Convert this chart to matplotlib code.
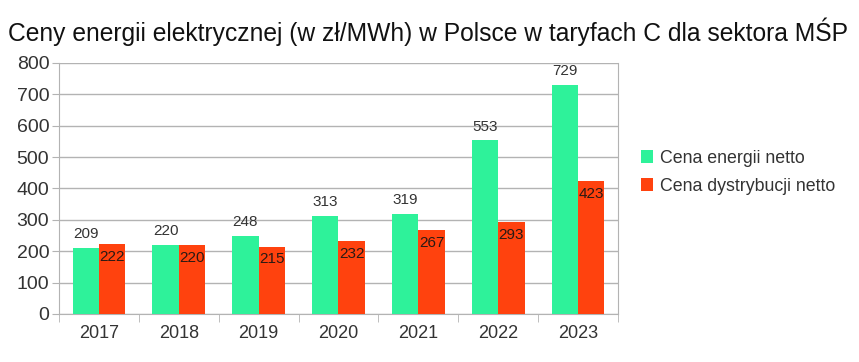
import matplotlib
matplotlib.use("Agg")
import matplotlib.pyplot as plt
import numpy as np

plt.rcParams['font.family'] = ['Liberation Sans', 'DejaVu Sans']

years = ["2017", "2018", "2019", "2020", "2021", "2022", "2023"]
energia = [209, 220, 248, 313, 319, 553, 729]
dystrybucja = [222, 220, 215, 232, 267, 293, 423]
series_names = ["Cena energii netto", "Cena dystrybucji netto"]
title = "Ceny energii elektrycznej (w zł/MWh) w Polsce w taryfach C dla sektora MŚP"

green = "#2EF29A"
red = "#FF420E"
grid = "#B3B3B3"
txt = "#333333"

fig = plt.figure(figsize=(8.59, 3.62), dpi=100)
ax = fig.add_axes([0.0687, 0.1326, 0.6507, 0.6934])

x = np.arange(len(years))
w = 0.33
ax.bar(x - w/2, energia, w, color=green, label=series_names[0], zorder=3)
ax.bar(x + w/2, dystrybucja, w, color=red, label=series_names[1], zorder=3)

for xi, v in zip(x, energia):
    ax.annotate(str(v), (xi - w/2, v), xytext=(0, 5), textcoords="offset points",
                ha="center", va="bottom", fontsize=11, color=txt, zorder=4)
for xi, v in zip(x, dystrybucja):
    ax.annotate(str(v), (xi + w/2, v), xytext=(0, -4), textcoords="offset points",
                ha="center", va="top", fontsize=11, color="#2a1a14", zorder=4)

ax.set_xlim(-0.5, len(years) - 0.5)
ax.set_ylim(0, 800)
ax.set_yticks(range(0, 801, 100))
ax.yaxis.grid(True, color=grid, linewidth=1, zorder=0)
ax.set_axisbelow(True)

ax.set_xticks(x)
ax.set_xticklabels(years)
ax.tick_params(axis='x', length=0, labelsize=13, labelcolor=txt, pad=8)
ax.set_xticks(np.arange(-0.5, len(years)), minor=True)
ax.tick_params(axis='x', which='minor', length=6, color=grid, direction='out')
ax.tick_params(axis='y', length=5, color=grid, labelsize=14, labelcolor=txt, pad=2)

for s in ['left', 'bottom', 'right', 'top']:
    ax.spines[s].set_color(grid)
ax.spines['top'].set_visible(False)

fig.text(0.0093, 0.912, title, fontsize=17.7, color="#111111", ha="left", va="center")

ax.legend(loc="center left", bbox_to_anchor=(1.012, 0.565), frameon=False,
          fontsize=12.8, handlelength=0.7, handleheight=0.7, handletextpad=0.4,
          labelspacing=0.6, labelcolor=txt)

fig.savefig("out.png", dpi=100, facecolor="white")
